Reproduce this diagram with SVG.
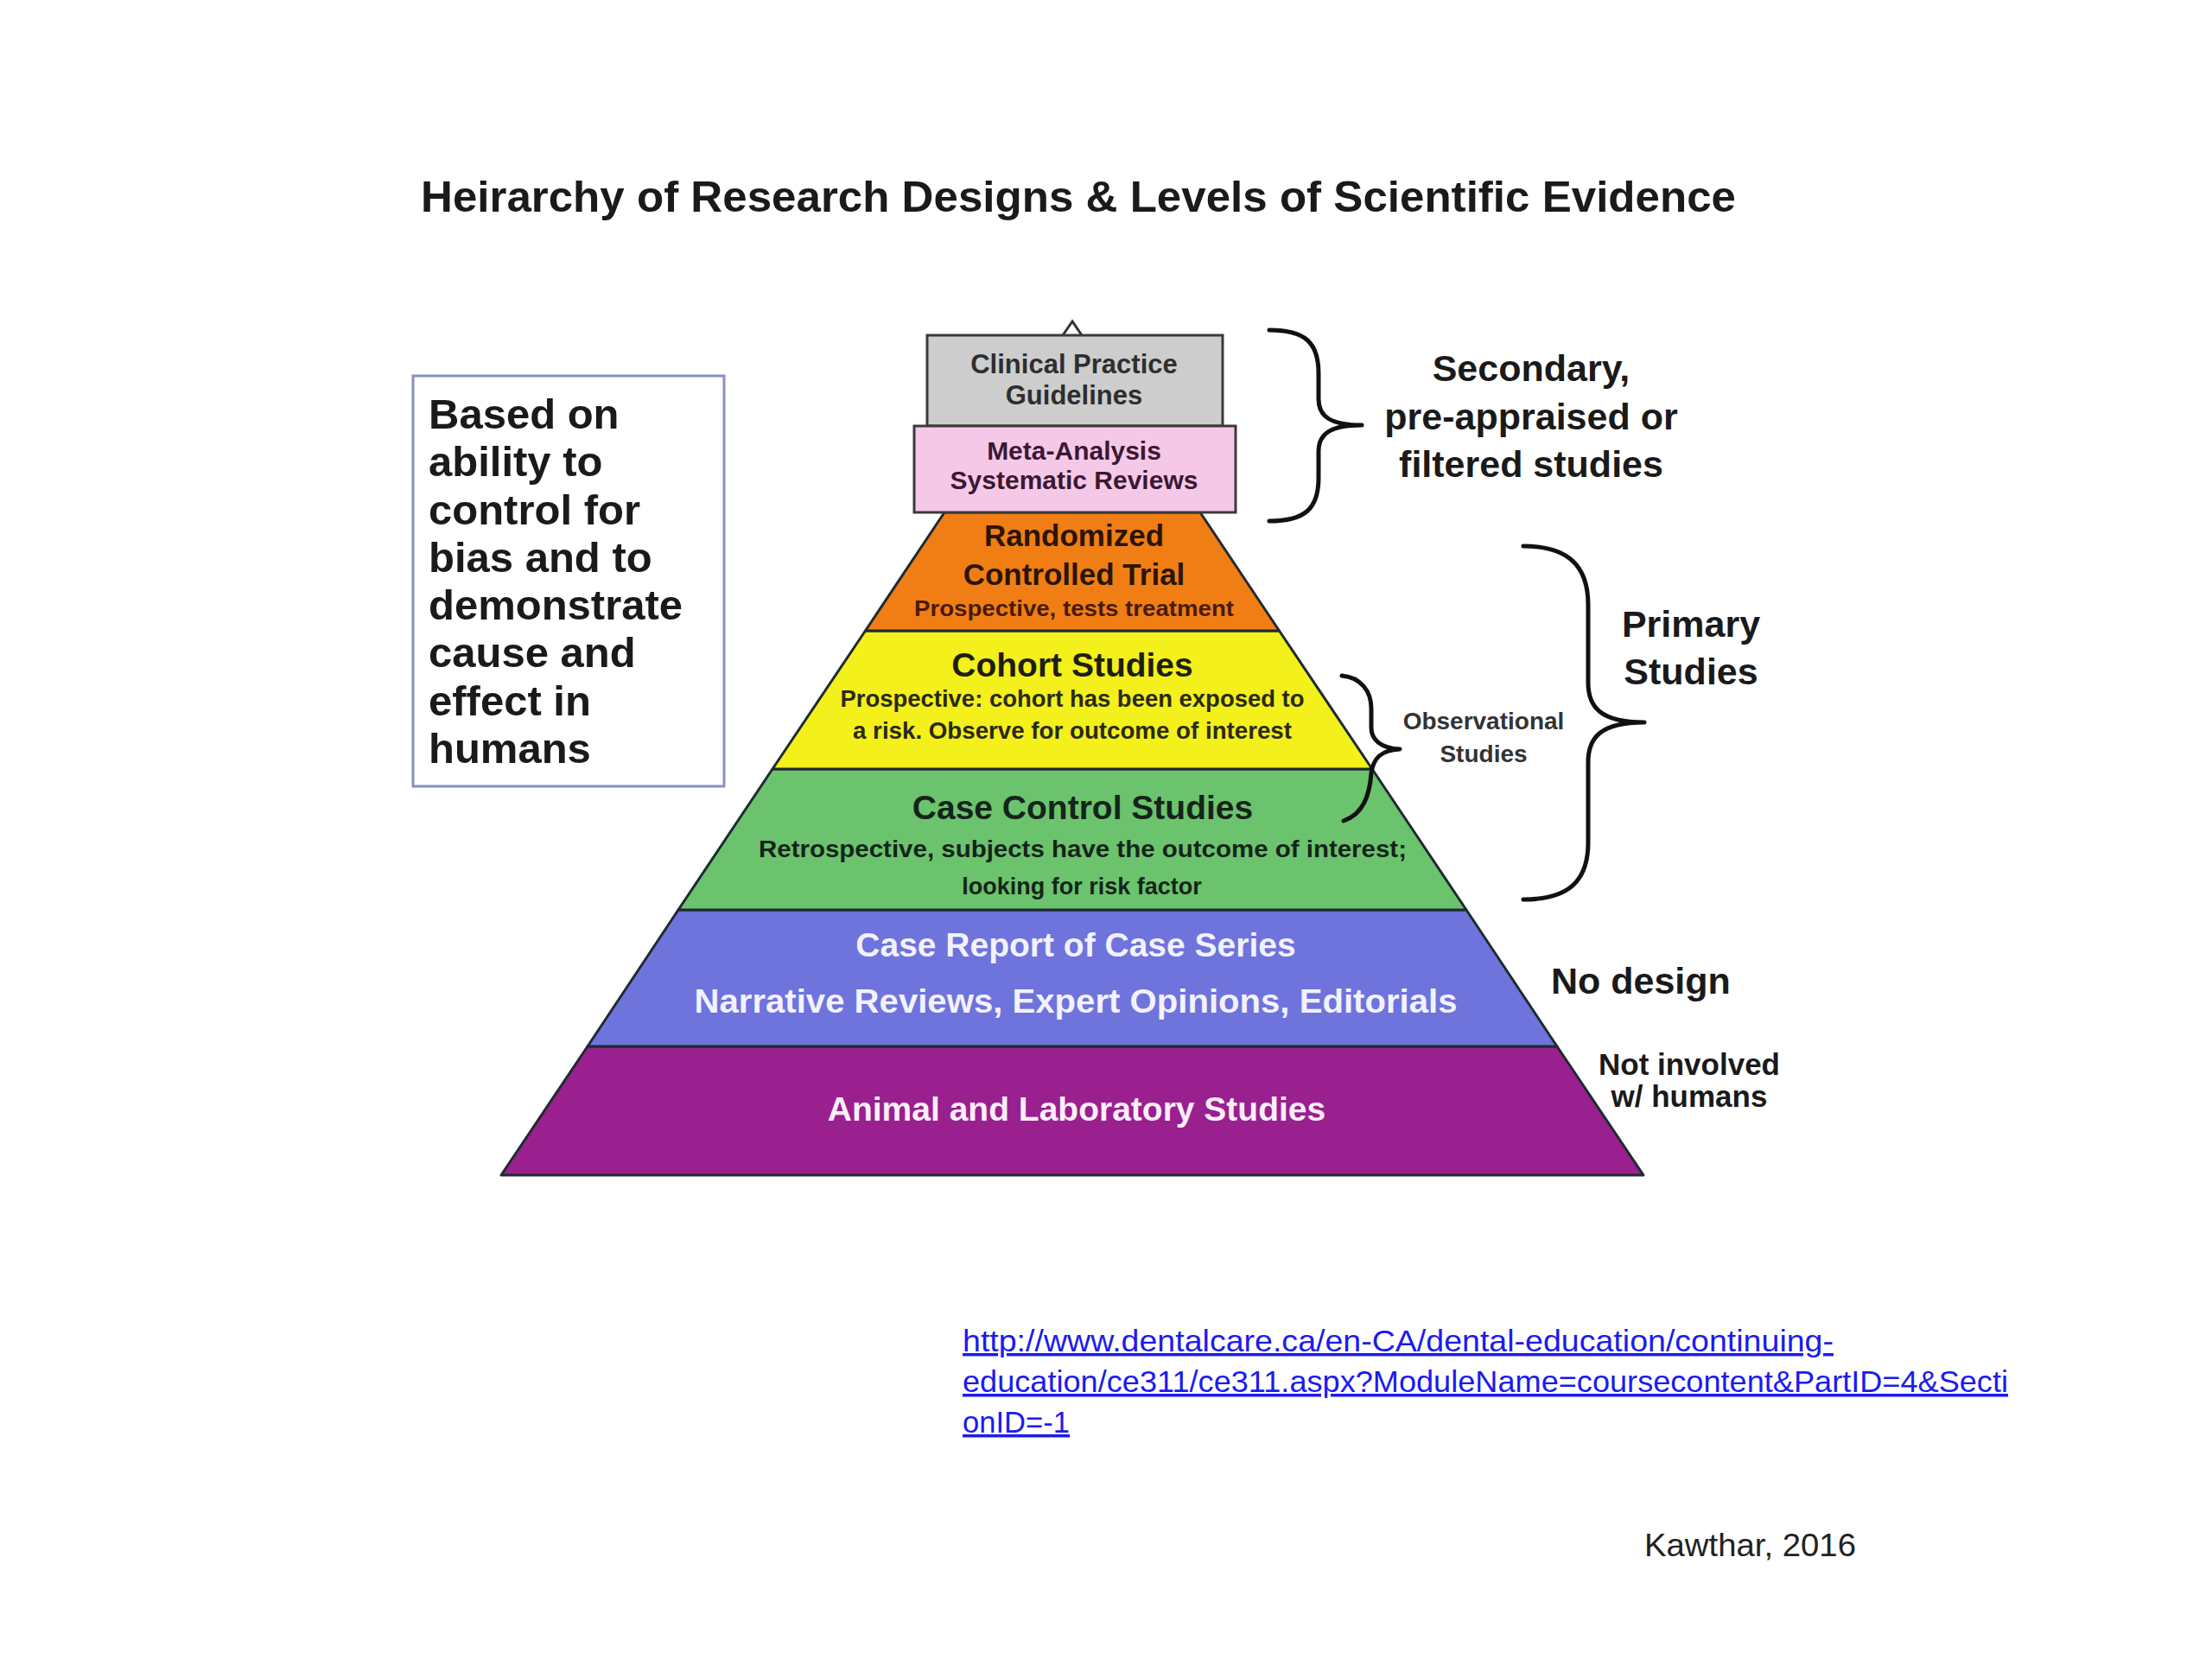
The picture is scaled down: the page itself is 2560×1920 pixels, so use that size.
<svg xmlns="http://www.w3.org/2000/svg" width="2560" height="1920" viewBox="0 0 2560 1920">
<style>
.t{font-family:"Liberation Sans",Arial,sans-serif;font-weight:bold;}
.c{text-anchor:middle;}
.layer{stroke:#1e2a30;stroke-width:3;stroke-linejoin:round;}
.brace{fill:none;stroke:#111;stroke-width:5;stroke-linecap:round;stroke-linejoin:round;}
.dark{fill:#1a1a1a;}
.link{font-family:"Liberation Sans",Arial,sans-serif;fill:#1b1bf0;text-decoration:underline;}
</style>
<rect width="2560" height="1920" fill="#ffffff"/>

<g id="title">
<text class="t dark" x="487" y="245" font-size="50" textLength="1522" lengthAdjust="spacingAndGlyphs">Heirarchy of Research Designs &amp; Levels of Scientific Evidence</text>
</g>

<g id="note-box">
<rect x="478" y="435" width="360" height="475" fill="#ffffff" stroke="#8a8fc0" stroke-width="3"/>
<text class="t dark" font-size="49">
<tspan x="496" y="496">Based on</tspan>
<tspan x="496" y="551">ability to</tspan>
<tspan x="496" y="607">control for</tspan>
<tspan x="496" y="662">bias and to</tspan>
<tspan x="496" y="717">demonstrate</tspan>
<tspan x="496" y="772">cause and</tspan>
<tspan x="496" y="828">effect in</tspan>
<tspan x="496" y="883">humans</tspan>
</text>
</g>

<g id="pyramid-tip">
<polygon points="1241,372 1228,391 1254,391" fill="#ffffff" stroke="#333" stroke-width="3"/>
</g>

<g id="layer-animal">
<polygon class="layer" points="680,1211 1802,1211 1902,1360 580,1360" fill="#9a1f8f"/>
<text class="t c" x="1246" y="1297" font-size="39" fill="#fbeefb">Animal and Laboratory Studies</text>
</g>

<g id="layer-case-report">
<polygon class="layer" points="785,1053 1697,1053 1802,1211 680,1211" fill="#6f73dc"/>
<text class="t c" x="1245" y="1107" font-size="39" fill="#f2f2ff">Case Report of Case Series</text>
<text class="t c" x="1245" y="1172" font-size="39" fill="#f2f2ff" textLength="883" lengthAdjust="spacingAndGlyphs">Narrative Reviews, Expert Opinions, Editorials</text>
</g>

<g id="layer-case-control">
<polygon class="layer" points="894,890 1588,890 1697,1053 785,1053" fill="#6cc36d"/>
<text class="t c" x="1253" y="948" font-size="39" fill="#14241a">Case Control Studies</text>
<text class="t c" x="1253" y="992" font-size="27" fill="#14241a" textLength="750" lengthAdjust="spacingAndGlyphs">Retrospective, subjects have the outcome of interest;</text>
<text class="t c" x="1252" y="1035" font-size="27" fill="#14241a">looking for risk factor</text>
</g>

<g id="layer-cohort">
<polygon class="layer" points="1001.5,730 1480.5,730 1588,890 894,890" fill="#f4f01c"/>
<text class="t c" x="1241" y="783" font-size="39" fill="#1e1e10">Cohort Studies</text>
<text class="t c" x="1241" y="818" font-size="27" fill="#2a2a10" textLength="537" lengthAdjust="spacingAndGlyphs">Prospective: cohort has been exposed to</text>
<text class="t c" x="1241" y="855" font-size="27" fill="#2a2a10" textLength="508" lengthAdjust="spacingAndGlyphs">a risk. Observe for outcome of interest</text>
</g>

<g id="layer-rct">
<polygon class="layer" points="1093,593 1389,593 1480.5,730 1001.5,730" fill="#f07e14"/>
<text class="t c" x="1243" y="632" font-size="35" fill="#2a1404">Randomized</text>
<text class="t c" x="1243" y="677" font-size="35" fill="#2a1404">Controlled Trial</text>
<text class="t c" x="1243" y="713" font-size="26" fill="#4a1a04" textLength="370" lengthAdjust="spacingAndGlyphs">Prospective, tests treatment</text>
</g>

<g id="box-guidelines">
<rect x="1073" y="388" width="342" height="105" fill="#cdcdcd" stroke="#3a3a3a" stroke-width="3"/>
<text class="t c" x="1243" y="432" font-size="31" fill="#2e2e2e">Clinical Practice</text>
<text class="t c" x="1243" y="468" font-size="31" fill="#2e2e2e">Guidelines</text>
</g>

<g id="box-meta">
<rect x="1058" y="493" width="372" height="100" fill="#f6c8e8" stroke="#3a3a3a" stroke-width="3"/>
<text class="t c" x="1243" y="532" font-size="30" fill="#3a1832">Meta-Analysis</text>
<text class="t c" x="1243" y="566" font-size="30" fill="#3a1832">Systematic Reviews</text>
</g>

<g id="connectors">
<path class="brace" d="M1469,382 C1510,382 1526,396 1526,432 L1526,462 C1526,482 1540,492 1576,492 C1540,492 1526,502 1526,522 L1526,553 C1526,589 1510,603 1469,603"/>
<path class="brace" d="M1763,632 C1815,632 1838,655 1838,700 L1838,790 C1838,818 1852,836 1903,836 C1852,836 1838,854 1838,882 L1838,975 C1838,1020 1815,1041 1763,1041"/>
<path class="brace" d="M1553,782 C1575,784 1587,800 1587,820 L1587,842 C1587,856 1598,866 1620,867 C1598,868 1589,878 1587,895 C1585,920 1578,942 1555,950"/>
</g>

<g id="label-secondary">
<text class="t c dark" x="1772" y="441" font-size="43" fill="#2a2a2a">Secondary,</text>
<text class="t c dark" x="1772" y="497" font-size="43">pre-appraised or</text>
<text class="t c dark" x="1772" y="552" font-size="43">filtered studies</text>
</g>

<g id="label-primary">
<text class="t c dark" x="1957" y="737" font-size="43">Primary</text>
<text class="t c dark" x="1957" y="792" font-size="43">Studies</text>
</g>

<g id="label-observational">
<text class="t c" x="1717" y="844" font-size="28" fill="#333">Observational</text>
<text class="t c" x="1717" y="882" font-size="28" fill="#333">Studies</text>
</g>

<g id="label-no-design">
<text class="t dark" x="1795" y="1150" font-size="43">No design</text>
</g>

<g id="label-not-involved">
<text class="t c dark" x="1955" y="1244" font-size="35">Not involved</text>
<text class="t c dark" x="1955" y="1281" font-size="35">w/ humans</text>
</g>

<g id="link">
<text class="link" x="1114" y="1564" font-size="35" textLength="1008" lengthAdjust="spacingAndGlyphs">http://www.dentalcare.ca/en-CA/dental-education/continuing-</text>
<text class="link" x="1114" y="1611" font-size="35" textLength="1210" lengthAdjust="spacingAndGlyphs">education/ce311/ce311.aspx?ModuleName=coursecontent&amp;PartID=4&amp;Secti</text>
<text class="link" x="1114" y="1658" font-size="35" textLength="124" lengthAdjust="spacingAndGlyphs">onID=-1</text>
</g>

<g id="credit">
<text x="1903" y="1801" font-family="'Liberation Sans',Arial,sans-serif" font-size="36" fill="#222" textLength="245" lengthAdjust="spacingAndGlyphs">Kawthar, 2016</text>
</g>
</svg>
